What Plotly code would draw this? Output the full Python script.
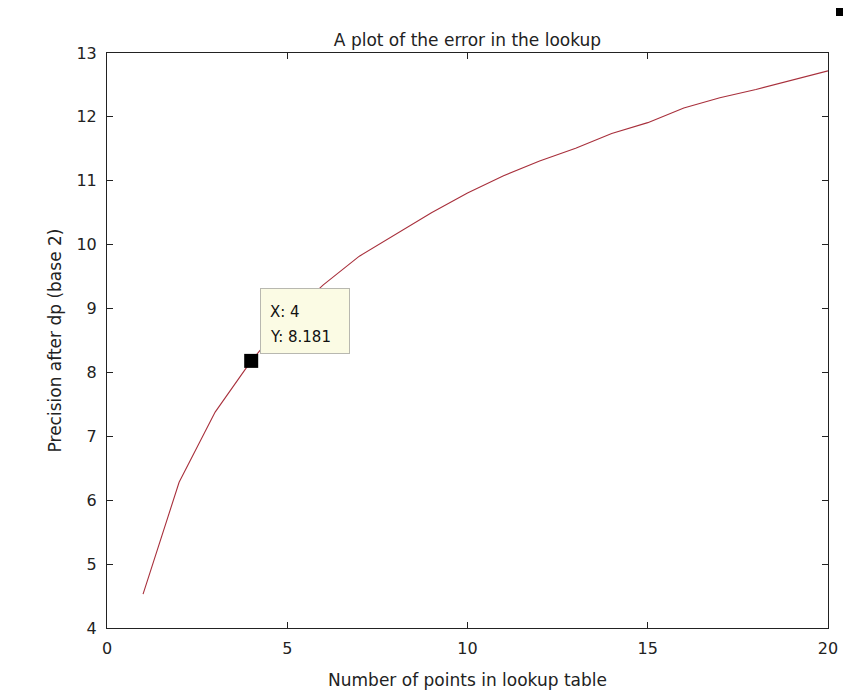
import plotly.graph_objects as go

# Data
x_points = list(range(1, 21))
precision = [4.53, 6.28, 7.38, 8.181, 8.85, 9.37, 9.82, 10.16, 10.50, 10.81,
             11.08, 11.31, 11.51, 11.74, 11.91, 12.14, 12.30, 12.43, 12.58, 12.72]
x_ticks = [0, 5, 10, 15, 20]
y_ticks = [4, 5, 6, 7, 8, 9, 10, 11, 12, 13]
tip_x = 4
tip_y = 8.181

title_text = "A plot of the error in the lookup"
x_title = "Number of points in lookup table"
y_title = "Precision after dp (base 2)"

FONT = "DejaVu Sans"
TXT = "#222222"

# the page body adds an 8px offset; size the figure to the visible area
W, H = 854, 685
L, R, T, B = 99, 34, 45, 65

fig = go.Figure()
fig.add_trace(go.Scatter(x=x_points, y=precision, mode="lines",
                         line=dict(color="#a8303c", width=1.1),
                         hoverinfo="skip", showlegend=False))
fig.add_trace(go.Scatter(x=[tip_x], y=[tip_y], mode="markers",
                         marker=dict(symbol="square", size=14, color="black",
                                     line=dict(width=0)),
                         hoverinfo="skip", showlegend=False))

axis_common = dict(showline=True, linecolor="#222222", linewidth=1, mirror="ticks",
                   ticks="inside", ticklen=6, tickcolor="#222222", tickwidth=1,
                   showgrid=False, zeroline=False, automargin=False,
                   tickfont=dict(family=FONT, size=16, color=TXT))

fig.update_layout(
    template="none",
    width=W, height=H,
    margin=dict(l=L, r=R, t=T, b=B, autoexpand=False),
    paper_bgcolor="white", plot_bgcolor="white",
    title=dict(text=title_text, x=0.5, xref="paper", xanchor="center",
               y=1 - 32 / H, yanchor="middle",
               font=dict(family=FONT, size=17, color=TXT)),
    xaxis=dict(range=[0, 20], tickvals=x_ticks, ticktext=[str(v) for v in x_ticks],
               title=dict(text=x_title, font=dict(family=FONT, size=17, color=TXT),
                          standoff=16),
               ticklabelstandoff=6,
               **axis_common),
    yaxis=dict(range=[4, 13], tickvals=y_ticks, ticktext=[str(v) for v in y_ticks],
               title=dict(text=y_title, font=dict(family=FONT, size=17, color=TXT),
                          standoff=10),
               ticklabelstandoff=6,
               **axis_common),
)

# Data tip box
fig.add_annotation(x=tip_x, y=tip_y, xref="x", yref="y", text="",
                   showarrow=False, xanchor="left", yanchor="top",
                   xshift=9, yshift=73, width=88, height=64,
                   bgcolor="#fbfbe4", bordercolor="#b8b8b0", borderwidth=1, borderpad=0)
fig.add_annotation(x=tip_x, y=tip_y, xref="x", yref="y", text=f"X: {tip_x}",
                   showarrow=False, xanchor="left", yanchor="middle",
                   xshift=17, yshift=49, font=dict(family=FONT, size=15, color="#111111"))
fig.add_annotation(x=tip_x, y=tip_y, xref="x", yref="y", text=f"Y: {tip_y}",
                   showarrow=False, xanchor="left", yanchor="middle",
                   xshift=17, yshift=24, font=dict(family=FONT, size=15, color="#111111"))

# small dark mark at top right of the image
pw, ph = W - L - R, H - T - B
fig.add_shape(type="rect", xref="paper", yref="paper",
              x0=(828 - L) / pw, x1=(835 - L) / pw,
              y0=(H - B - 8) / ph, y1=(H - B) / ph,
              fillcolor="black", line=dict(width=0))

fig.write_html("out.html")
